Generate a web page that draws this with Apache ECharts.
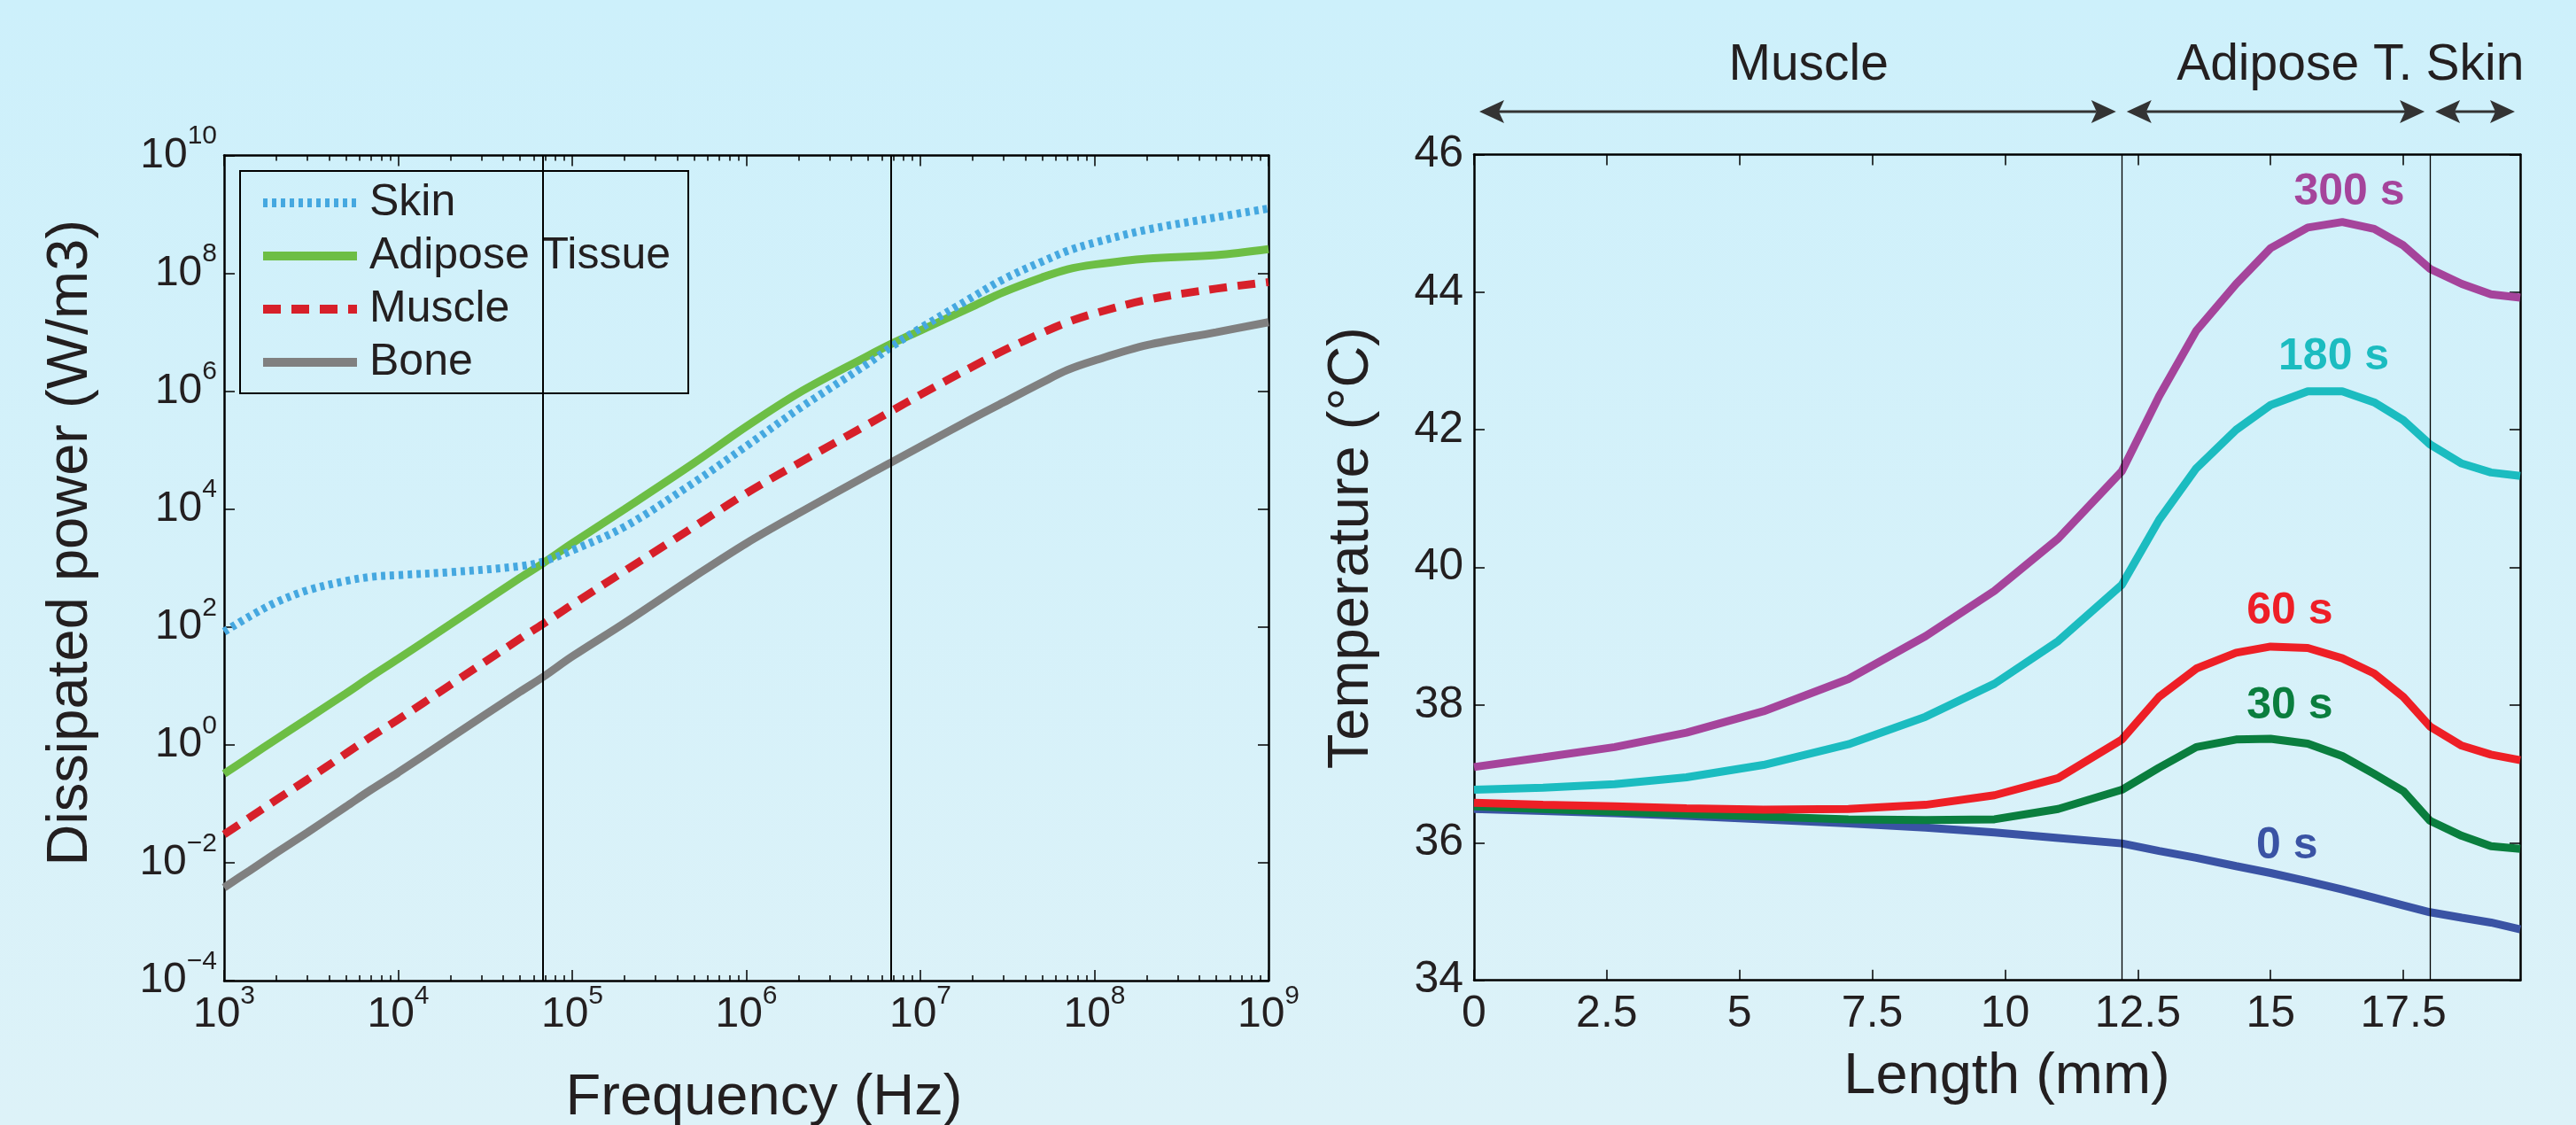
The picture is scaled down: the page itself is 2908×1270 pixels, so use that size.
<!DOCTYPE html>
<html>
<head lang="en">
    <meta charset="UTF-8">
    <title>Dissipated power and tissue temperature</title>
    <script type="text/javascript" src="https://cdn.jsdelivr.net/npm/echarts@6/dist/echarts.min.js"></script>
    <style>
        html, body { margin: 0; padding: 0; }
        #chart { width: 2908px; height: 1270px; }
    </style>
</head>
<body>
<div id="chart"></div>

<script type="text/javascript">
    // left panel: dissipated power vs frequency (W/m3)
    var freqHz = [1e3, 1.4e3, 2e3, 3e3, 5e3, 7e3, 1e4, 2e4, 5e4, 6.78e4, 1e5, 2e5, 5e5,
        1e6, 2e6, 5e6, 6.78e6, 1e7, 2e7, 3e7, 5e7, 7e7, 1e8, 2e8, 5e8, 1e9];
    var skinPower = [83, 151, 263, 417, 603, 708, 759, 851, 1072, 1288, 1995, 5012, 2.82e4,
        1.17e5, 5.01e5, 2.95e6, 5.62e6, 1.17e7, 3.98e7, 7.94e7, 1.58e8, 2.40e8, 3.31e8, 5.50e8, 8.91e8, 1.26e9];
    var adiposePower = [0.324, 0.624, 1.26, 2.75, 7.41, 14.5, 28.8, 112, 676, 1202, 2630, 1.0e4, 6.03e4,
        2.51e5, 9.33e5, 3.98e6, 6.31e6, 1.07e7, 2.75e7, 4.79e7, 8.51e7, 1.17e8, 1.41e8, 1.78e8, 2.04e8, 2.57e8];
    var musclePower = [0.0302, 0.0582, 0.1175, 0.257, 0.708, 1.38, 2.69, 10.5, 63.1, 112, 240, 891, 5012,
        1.86e4, 6.03e4, 2.75e5, 4.57e5, 8.71e5, 2.63e6, 4.90e6, 9.77e6, 1.48e7, 2.09e7, 3.55e7, 5.50e7, 7.08e7];
    var bonePower = [0.0038, 0.00733, 0.0148, 0.0324, 0.0891, 0.174, 0.339, 1.32, 7.94, 14.1, 31.6, 117, 708,
        2630, 8510, 3.80e4, 6.17e4, 1.15e5, 3.47e5, 6.46e5, 1.41e6, 2.29e6, 3.31e6, 6.03e6, 1.0e7, 1.48e7];
    var bandLinesHz = [6.78e4, 6.78e6];
    var freqTicks = [1e3, 1e4, 1e5, 1e6, 1e7, 1e8, 1e9];
    var powerTicks = [1e-4, 1e-2, 1, 1e2, 1e4, 1e6, 1e8, 1e10];

    // right panel: temperature along depth (degC)
    var lengthMm = [0, 1.3, 2.65, 4.0, 5.45, 7.05, 8.5, 9.8, 11.0, 12.2, 12.9, 13.6, 14.35,
        15.0, 15.7, 16.35, 16.95, 17.5, 18.0, 18.6, 19.15, 19.7];
    var temp0s = [36.49, 36.46, 36.43, 36.39, 36.34, 36.28, 36.22, 36.15, 36.07, 35.99, 35.88, 35.78, 35.66,
        35.56, 35.44, 35.32, 35.20, 35.09, 34.99, 34.91, 34.84, 34.74];
    var temp30s = [36.53, 36.49, 36.45, 36.42, 36.38, 36.34, 36.33, 36.34, 36.49, 36.77, 37.09, 37.39, 37.50,
        37.51, 37.44, 37.26, 37.00, 36.75, 36.32, 36.10, 35.95, 35.91];
    var temp60s = [36.58, 36.55, 36.53, 36.50, 36.48, 36.49, 36.55, 36.69, 36.94, 37.50, 38.12, 38.53, 38.76,
        38.85, 38.83, 38.68, 38.46, 38.12, 37.69, 37.41, 37.28, 37.20];
    var temp180s = [36.77, 36.80, 36.85, 36.95, 37.13, 37.43, 37.83, 38.31, 38.93, 39.75, 40.69, 41.44, 42.00,
        42.36, 42.56, 42.56, 42.40, 42.14, 41.79, 41.51, 41.38, 41.33];
    var temp300s = [37.10, 37.24, 37.39, 37.60, 37.91, 38.38, 39.00, 39.66, 40.42, 41.40, 42.49, 43.44, 44.12,
        44.64, 44.94, 45.02, 44.92, 44.68, 44.34, 44.12, 43.97, 43.92];
    var lengthTicks = [0, 2.5, 5, 7.5, 10, 12.5, 15, 17.5];
    var tissueBounds = [0, 12.19, 18.0, 19.7];
    var tissueNames = ['Muscle', 'Adipose T.', 'Skin'];
    var tissueNameAt = [6.3, 15.45, 18.85];

    var FONT = "'Liberation Sans', Arial, Helvetica, sans-serif";
    var INK = '#231f20';

    // minor ticks 2..9 of every decade
    var freqMinor = [];
    for (var d = 3; d < 9; d++) {
        for (var m = 2; m <= 9; m++) {
            freqMinor.push(m * Math.pow(10, d));
        }
    }

    function zip(xs, ys) {
        var out = [];
        for (var i = 0; i < xs.length; i++) {
            out.push([xs[i], ys[i]]);
        }
        return out;
    }

    function powLabel(v) {
        var e = Math.round(Math.log(v) / Math.LN10);
        return '{b|10}{s|' + (e < 0 ? '\u2212' + (-e) : e) + '}';
    }

    var powRich = {
        b: {fontSize: 48, lineHeight: 48, fontFamily: FONT, color: INK},
        s: {fontSize: 30, lineHeight: 30, fontFamily: FONT, color: INK, padding: [0, 0, 43, 0]}
    };

    var boxLine = {show: true, onZero: false, lineStyle: {color: '#000', width: 2.5}};
    var nameStyle = {fontSize: 65, fontFamily: FONT, color: INK};

    function mirrorAxis(base, pos, ticks, len) {
        var a = {
            gridIndex: base.gridIndex,
            type: base.type,
            position: pos,
            min: base.min,
            max: base.max,
            axisLine: boxLine,
            axisLabel: {show: false},
            axisTick: {show: true, inside: true, length: len || 12, lineStyle: {color: '#000', width: 1.5}},
            splitLine: {show: false}
        };
        if (base.type === 'log') a.logBase = 10;
        if (ticks) a.axisTick.customValues = ticks;
        return a;
    }

    var freqAxis = {
        gridIndex: 0, type: 'log', logBase: 10, position: 'bottom', min: 1e3, max: 1e9,
        name: 'Frequency (Hz)', nameLocation: 'middle', nameGap: 101, nameMoveOverlap: false,
        nameTextStyle: Object.assign({padding: [0, 0, 0, 40]}, nameStyle),
        axisLine: boxLine,
        axisTick: {inside: true, length: 12, customValues: freqTicks, lineStyle: {color: '#000', width: 1.5}},
        axisLabel: {margin: 15, customValues: freqTicks, formatter: powLabel, rich: powRich},
        splitLine: {show: false}
    };
    var freqMinorAxis = mirrorAxis(freqAxis, 'bottom', freqMinor, 6);
    freqMinorAxis.axisLine = {show: false, onZero: false};
    var freqMinorTop = mirrorAxis(freqAxis, 'top', freqMinor, 6);
    freqMinorTop.axisLine = {show: false, onZero: false};

    var powerAxis = {
        gridIndex: 0, type: 'log', logBase: 10, position: 'left', min: 1e-4, max: 1e10,
        name: 'Dissipated power (W/m3)', nameLocation: 'middle', nameGap: 140, nameMoveOverlap: false,
        nameTextStyle: Object.assign({padding: [0, 0, 0, 57]}, nameStyle),
        axisLine: boxLine,
        axisTick: {inside: true, length: 12, customValues: powerTicks, lineStyle: {color: '#000', width: 1.5}},
        axisLabel: {margin: 8, customValues: powerTicks, formatter: powLabel, rich: powRich},
        splitLine: {show: false}
    };

    var lengthAxis = {
        gridIndex: 1, type: 'value', position: 'bottom', min: 0, max: 19.7,
        name: 'Length (mm)', nameLocation: 'middle', nameGap: 77, nameMoveOverlap: false,
        nameTextStyle: Object.assign({padding: [0, 0, 0, 22]}, nameStyle),
        axisLine: boxLine,
        axisTick: {inside: true, length: 12, customValues: lengthTicks, lineStyle: {color: '#000', width: 1.5}},
        axisLabel: {margin: 14, customValues: lengthTicks, fontSize: 50, lineHeight: 50, fontFamily: FONT, color: INK},
        splitLine: {show: false}
    };

    var tempAxis = {
        gridIndex: 1, type: 'value', position: 'left', min: 34, max: 46, interval: 2,
        name: 'Temperature (\u00b0C)', nameLocation: 'middle', nameGap: 105, nameMoveOverlap: false,
        nameTextStyle: Object.assign({padding: [0, 0, 0, 44]}, nameStyle),
        axisLine: boxLine,
        axisTick: {inside: true, length: 12, lineStyle: {color: '#000', width: 1.5}},
        axisLabel: {margin: 12, fontSize: 50, fontFamily: FONT, color: INK},
        splitLine: {show: false}
    };
    var tempMirror = mirrorAxis(tempAxis, 'right');
    tempMirror.interval = 2;

    function powerSeries(name, values, color, width, dash) {
        return {
            name: name, type: 'line', xAxisIndex: 0, yAxisIndex: 0,
            data: zip(freqHz, values), symbol: 'none', smooth: 0.35,
            lineStyle: {color: color, width: width, type: dash || 'solid', cap: 'butt'},
            itemStyle: {color: color},
            emphasis: {disabled: true}
        };
    }

    function tempSeries(name, values, color) {
        return {
            name: name, type: 'line', xAxisIndex: 4, yAxisIndex: 2,
            data: zip(lengthMm, values), symbol: 'none',
            lineStyle: {color: color, width: 9},
            itemStyle: {color: color},
            emphasis: {disabled: true}
        };
    }

    var vline = function (values, width) {
        return {
            silent: true, symbol: ['none', 'none'], label: {show: false},
            lineStyle: {color: '#000', width: width, type: 'solid'},
            emphasis: {disabled: true},
            data: values.map(function (v) { return {xAxis: v}; })
        };
    };

    var bone = powerSeries('Bone', bonePower, '#808080', 9);
    bone.markLine = vline(bandLinesHz, 2);
    var t0 = tempSeries('0 s', temp0s, '#3a53a4');
    t0.markLine = vline([tissueBounds[1], tissueBounds[2]], 1.3);

    var timeLabels = [
        {text: '300 s', at: [16.48, 45.45], color: '#a5449b'},
        {text: '180 s', at: [16.19, 43.06], color: '#1bbcc0'},
        {text: '60 s', at: [15.36, 39.36], color: '#ee1f26'},
        {text: '30 s', at: [15.36, 37.99], color: '#0a7e3e'},
        {text: '0 s', at: [15.31, 35.95], color: '#3a53a4'}
    ];

    var chart = echarts.init(document.getElementById('chart'));
    chart.setOption({
        animation: false,
        backgroundColor: {
            type: 'linear', x: 0, y: 0, x2: 0, y2: 1,
            colorStops: [{offset: 0, color: '#cdf0fb'}, {offset: 1, color: '#ddf2f8'}]
        },
        textStyle: {fontFamily: FONT},
        grid: [
            {left: 253, top: 175.5, width: 1179, height: 931.5, outerBoundsMode: 'none', containLabel: false},
            {left: 1664, top: 174.5, width: 1181, height: 932.2, outerBoundsMode: 'none', containLabel: false}
        ],
        legend: {
            data: ['Skin', 'Adipose Tissue', 'Muscle', 'Bone'],
            orient: 'vertical', left: 271, top: 193,
            itemWidth: 106, itemHeight: 14, itemGap: 10,
            padding: [11, 20, 10, 21],
            borderColor: '#000', borderWidth: 2,
            selectedMode: false,
            itemStyle: {opacity: 0},
            lineStyle: {width: 10},
            textStyle: {fontSize: 50, lineHeight: 50, color: INK, fontFamily: FONT, padding: [0, 0, 0, 9]}
        },
        xAxis: [
            freqAxis,
            mirrorAxis(freqAxis, 'top', freqTicks),
            freqMinorAxis,
            freqMinorTop,
            lengthAxis,
            mirrorAxis(lengthAxis, 'top', lengthTicks)
        ],
        yAxis: [
            powerAxis,
            mirrorAxis(powerAxis, 'right', powerTicks),
            tempAxis,
            tempMirror
        ],
        series: [
            bone,
            powerSeries('Muscle', musclePower, '#d7202a', 9, [20, 12]),
            powerSeries('Adipose Tissue', adiposePower, '#6dbe45', 9),
            powerSeries('Skin', skinPower, '#45a8e0', 9, [5, 5]),
            t0,
            tempSeries('30 s', temp30s, '#0a7e3e'),
            tempSeries('60 s', temp60s, '#ee1f26'),
            tempSeries('180 s', temp180s, '#1bbcc0'),
            tempSeries('300 s', temp300s, '#a5449b')
        ]
    });

    // annotations: time labels, tissue spans above the right panel
    var finder = {xAxisIndex: 4, yAxisIndex: 2};
    var els = [];
    timeLabels.forEach(function (t) {
        var p = chart.convertToPixel(finder, t.at);
        els.push({
            type: 'text', x: p[0], y: p[1], silent: true,
            style: {text: t.text, fill: t.color, fontSize: 50, fontWeight: 'bold', fontFamily: FONT,
                align: 'center', verticalAlign: 'middle'}
        });
    });
    var arrowY = 126, inset = 6, headLen = 28, headHalf = 13, notch = 6;
    for (var k = 0; k < tissueNames.length; k++) {
        var xa = chart.convertToPixel(finder, [tissueBounds[k], 40])[0] + inset;
        var xb = chart.convertToPixel(finder, [tissueBounds[k + 1], 40])[0] - inset;
        els.push({type: 'line', silent: true,
            shape: {x1: xa + headLen - notch, y1: arrowY, x2: xb - headLen + notch, y2: arrowY},
            style: {stroke: '#333', lineWidth: 3}});
        els.push({type: 'polygon', silent: true,
            shape: {points: [[xa, arrowY], [xa + headLen, arrowY - headHalf], [xa + headLen - notch, arrowY], [xa + headLen, arrowY + headHalf]]},
            style: {fill: '#333'}});
        els.push({type: 'polygon', silent: true,
            shape: {points: [[xb, arrowY], [xb - headLen, arrowY - headHalf], [xb - headLen + notch, arrowY], [xb - headLen, arrowY + headHalf]]},
            style: {fill: '#333'}});
        var xt = chart.convertToPixel(finder, [tissueNameAt[k], 40])[0];
        els.push({
            type: 'text', x: xt, y: 74, silent: true,
            style: {text: tissueNames[k], fill: INK, fontSize: 57, fontFamily: FONT,
                align: 'center', verticalAlign: 'middle'}
        });
    }
    chart.setOption({graphic: els});
</script>
</body>
</html>
